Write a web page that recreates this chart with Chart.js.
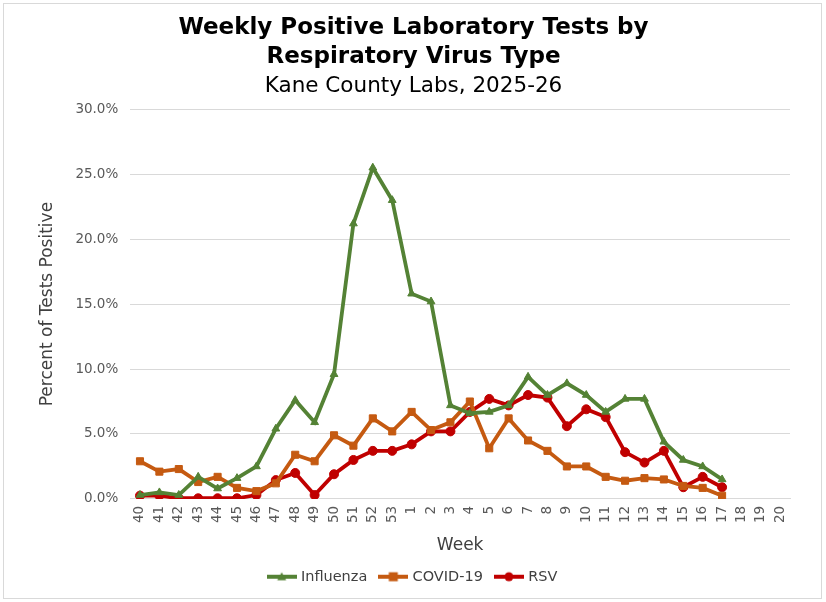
<!DOCTYPE html>
<html>
<head>
<meta charset="utf-8">
<script src="https://cdn.jsdelivr.net/npm/chart.js@4"></script>
<style>
    html, body { margin: 0; padding: 0; background: #ffffff; }
    #wrap { position: relative; width: 826px; height: 602px; }
    #frame { position: absolute; left: 3px; top: 3px; width: 817px; height: 594px; border: 1px solid #d9d9d9; pointer-events: none; }
</style>
</head>
<body>
<div id="wrap">
    <canvas id="myChart" width="826" height="602"></canvas>
    <div id="frame"></div>
</div>
<script>
var weeks = ["40","41","42","43","44","45","46","47","48","49","50","51","52","53",
    "1","2","3","4","5","6","7","8","9","10","11","12","13","14","15","16","17","18","19","20"];

var influenza = [0.3,0.5,0.3,1.7,0.8,1.6,2.5,5.4,7.6,5.9,9.6,21.2,25.5,23.0,
    15.8,15.2,7.2,6.6,6.7,7.2,9.4,8.0,8.9,8.0,6.7,7.7,7.7,4.4,3.0,2.5,1.5,null,null,null];

var covid = [2.9,2.1,2.3,1.3,1.7,0.85,0.6,1.2,3.4,2.9,4.9,4.1,6.2,5.2,
    6.7,5.3,5.9,7.5,3.9,6.2,4.5,3.7,2.5,2.5,1.7,1.4,1.6,1.5,1.0,0.85,0.25,null,null,null];

var rsv = [0.25,0.25,0.05,0.05,0.05,0.05,0.3,1.45,2.0,0.3,1.9,3.0,3.7,3.7,
    4.2,5.2,5.2,6.7,7.7,7.2,8.0,7.8,5.6,6.9,6.3,3.6,2.8,3.7,0.9,1.7,0.9,null,null,null];

var yTicks = [0,5,10,15,20,25,30];

var GREEN = "#548235";
var ORANGE = "#c55a11";
var RED = "#c00000";
var FONT = "'DejaVu Sans', Verdana, sans-serif";

// little line + marker picture for the legend
function legendIcon(color, style) {
    var c = document.createElement("canvas");
    c.width = 30;
    c.height = 12;
    var g = c.getContext("2d");
    g.strokeStyle = color;
    g.fillStyle = color;
    g.lineWidth = 4;
    g.beginPath();
    g.moveTo(0, 6);
    g.lineTo(30, 6);
    g.stroke();
    g.beginPath();
    if (style == "triangle") {
        g.moveTo(15, 1.5); g.lineTo(19.5, 9.5); g.lineTo(10.5, 9.5);
    } else if (style == "rect") {
        g.rect(10.5, 1.5, 9, 9);
    } else {
        g.arc(15, 6, 4.5, 0, Math.PI * 2);
    }
    g.fill();
    return c;
}

window.onload = function () {

    var icons = [legendIcon(GREEN, "triangle"), legendIcon(ORANGE, "rect"), legendIcon(RED, "circle")];

    var ctx = document.getElementById("myChart").getContext("2d");
    var myChart = new Chart(ctx, {
        type: "line",
        data: {
            labels: weeks,
            datasets: [{
                label: "Influenza",
                data: influenza,
                borderColor: GREEN,
                backgroundColor: GREEN,
                borderWidth: 3.8,
                pointStyle: "triangle",
                pointRadius: 4.5,
                pointBorderWidth: 1
            }, {
                label: "COVID-19",
                data: covid,
                borderColor: ORANGE,
                backgroundColor: ORANGE,
                borderWidth: 3.8,
                pointStyle: "rect",
                pointRadius: 5,
                pointBorderWidth: 1
            }, {
                label: "RSV",
                data: rsv,
                borderColor: RED,
                backgroundColor: RED,
                borderWidth: 3.8,
                pointStyle: "circle",
                pointRadius: 4.5,
                pointBorderWidth: 1
            }]
        },
        options: {
            responsive: false,
            animation: false,
            spanGaps: false,
            layout: {
                padding: { left: 37, right: 36, top: 10, bottom: 8 }
            },
            plugins: {
                title: {
                    display: true,
                    text: ["Weekly Positive Laboratory Tests by", "Respiratory Virus Type"],
                    color: "#000000",
                    font: { family: FONT, size: 23, weight: "bold", lineHeight: 1.25 },
                    padding: { top: 4, bottom: 2 }
                },
                subtitle: {
                    display: true,
                    text: "Kane County Labs, 2025-26",
                    color: "#000000",
                    font: { family: FONT, size: 21.5, lineHeight: 1.2 },
                    padding: { top: 0, bottom: 10 }
                },
                legend: {
                    position: "bottom",
                    labels: {
                        usePointStyle: true,
                        pointStyleWidth: 24,
                        color: "#404040",
                        font: { family: FONT, size: 14.5 },
                        padding: 14,
                        generateLabels: function (chart) {
                            var items = Chart.defaults.plugins.legend.labels.generateLabels(chart);
                            for (var i in items) {
                                items[i].pointStyle = icons[i];
                            }
                            return items;
                        }
                    }
                },
                tooltip: { enabled: false }
            },
            scales: {
                x: {
                    offset: true,
                    grid: { display: false, drawTicks: false },
                    border: { display: true, color: "#d9d9d9" },
                    ticks: {
                        color: "#595959",
                        font: { family: FONT, size: 13.5 },
                        minRotation: 90,
                        maxRotation: 90,
                        autoSkip: false,
                        padding: 7
                    },
                    title: {
                        display: true,
                        text: "Week",
                        color: "#404040",
                        font: { family: FONT, size: 17 },
                        padding: { top: 5, bottom: 0 }
                    }
                },
                y: {
                    min: 0,
                    max: 30,
                    afterBuildTicks: function (axis) {
                        axis.ticks = yTicks.map(function (v) { return { value: v }; });
                    },
                    grid: { color: "#d9d9d9", drawTicks: false },
                    border: { display: false },
                    ticks: {
                        color: "#595959",
                        font: { family: FONT, size: 13.5 },
                        padding: 12,
                        callback: function (value) {
                            return value.toFixed(1) + "%";
                        }
                    },
                    title: {
                        display: true,
                        text: "Percent of Tests Positive",
                        color: "#404040",
                        font: { family: FONT, size: 17 },
                        padding: { top: 0, bottom: 6 }
                    }
                }
            }
        }
    });

};
</script>
</body>
</html>
